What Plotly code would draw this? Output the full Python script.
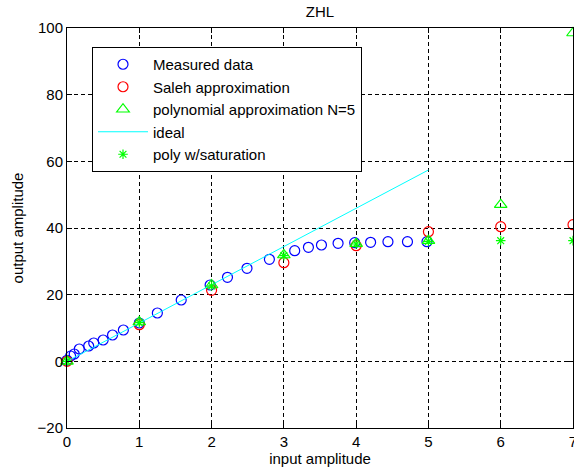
import plotly.graph_objects as go

# Measured data
meas_x = [0.0, 0.05, 0.10, 0.17, 0.30, 0.37, 0.50, 0.63, 0.78, 1.0, 1.25, 1.58, 1.98, 2.22, 2.49, 2.80,
          3.15, 3.34, 3.52, 3.75, 3.98, 4.20, 4.44, 4.71, 4.98]
meas_y = [0.3, 1.6, 2.2, 3.7, 4.6, 5.5, 6.4, 7.9, 9.4, 11.5, 14.5, 18.4, 22.9, 25.2, 27.9, 30.6,
          33.2, 34.2, 34.9, 35.4, 35.6, 35.7, 35.9, 35.9, 35.9]

# Approximations at integer inputs
approx_x = [0, 1, 2, 3, 4, 5, 6, 7]
saleh_y = [0.0, 11.0, 21.3, 29.6, 34.7, 38.9, 40.4, 41.0]
poly_y = [0.0, 11.8, 22.9, 31.9, 35.3, 36.2, 47.0, 98.5]
polysat_y = [0.0, 11.6, 22.6, 31.7, 35.2, 36.0, 36.2, 36.2]

# Ideal line
ideal_x = [0, 5]
ideal_y = [0, 57.4]

FONT = "Liberation Sans, Arial, sans-serif"
FS = 15

W, H = 574, 472
L, R, T, B = 67, 1, 28, 44
PW = W - L - R
PH = H - T - B

fig = go.Figure()
fig.add_trace(go.Scatter(x=meas_x, y=meas_y, mode="markers", name="Measured data",
                         marker=dict(symbol="circle-open", size=10, color="#0000ff", line=dict(width=1.2)),
                         cliponaxis=False))
fig.add_trace(go.Scatter(x=approx_x, y=saleh_y, mode="markers", name="Saleh approximation",
                         marker=dict(symbol="circle-open", size=10, color="#ff0000", line=dict(width=1.2)),
                         cliponaxis=False))
fig.add_trace(go.Scatter(x=approx_x, y=poly_y, mode="markers", name="polynomial approximation N=5",
                         marker=dict(symbol="triangle-up-open", size=11, color="#00ff00", line=dict(width=1.2)),
                         cliponaxis=False))
fig.add_trace(go.Scatter(x=ideal_x, y=ideal_y, mode="lines", name="ideal",
                         line=dict(color="#00ffff", width=1)))
fig.add_trace(go.Scatter(x=approx_x, y=polysat_y, mode="markers", name="poly w/saturation",
                         marker=dict(symbol="asterisk-open", size=8, color="#00ff00", line=dict(width=1.2)),
                         cliponaxis=False))

axis_common = dict(
    showgrid=True, gridcolor="black", gridwidth=1, griddash="4px,3px",
    showline=True, linecolor="black", linewidth=1, mirror="ticks",
    ticks="inside", ticklen=5, tickcolor="black", tickwidth=1,
    zeroline=False, automargin=False, ticklabeloverflow="allow",
    tickfont=dict(family=FONT, size=FS, color="black"),
)

fig.update_layout(
    width=W, height=H,
    margin=dict(l=L, r=R, t=T, b=B, autoexpand=False),
    paper_bgcolor="white", plot_bgcolor="white",
    font=dict(family=FONT, size=FS, color="black"),
    title=dict(text="ZHL", x=0.5, xanchor="center", xref="paper",
               y=1 - 12 / H, yanchor="middle", yref="container", automargin=False,
               font=dict(family=FONT, size=FS, color="black")),
    xaxis=dict(range=[0, 7], tickvals=[0, 1, 2, 3, 4, 5, 6, 7],
               title=dict(text="input amplitude", standoff=4, font=dict(family=FONT, size=FS)),
               **axis_common),
    yaxis=dict(range=[-20, 100], tickvals=[-20, 0, 20, 40, 60, 80, 100],
               title=dict(text="output amplitude", standoff=10, font=dict(family=FONT, size=FS)),
               **axis_common),
    legend=dict(x=25 / PW, y=(PH - 19) / PH, xanchor="left", yanchor="top",
                bgcolor="white", bordercolor="black", borderwidth=1, itemwidth=50,
                font=dict(family=FONT, size=FS, color="black")),
    showlegend=True,
)

fig.write_html("out.html", config={"displayModeBar": False},
               post_script="document.body.style.margin='0px';document.body.style.overflow='hidden';")
